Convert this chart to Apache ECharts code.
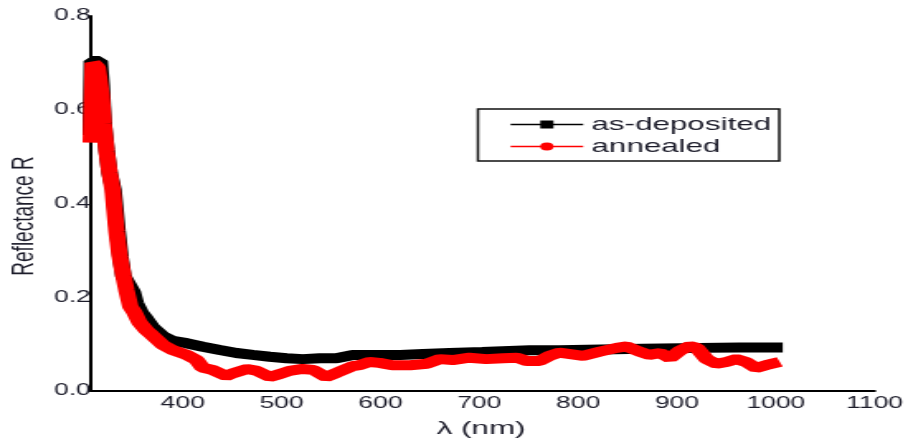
<!DOCTYPE html>
<html>
<head>
<meta charset="utf-8">
<title>Reflectance</title>
<script src="https://cdn.jsdelivr.net/npm/echarts@6/dist/echarts.min.js"></script>
<style>
  html, body { margin: 0; padding: 0; background: #fff; overflow: hidden; }
  /* the original figure is stretched sideways, so draw narrow and stretch */
  #main { width: 550px; height: 444px; transform: scaleX(1.6509); transform-origin: 0 0; }
</style>
</head>
<body>
<div id="main"></div>
<script>
  // wavelength (nm), reflectance
  var asDeposited = [
    [307, 0.546], [308, 0.704], [316, 0.704], [318, 0.653], [320, 0.572], [323, 0.514],
    [326, 0.465], [330, 0.429], [334, 0.343], [337, 0.286], [340, 0.245], [349.5, 0.211],
    [352.5, 0.188], [357.6, 0.167], [362.6, 0.154], [369.4, 0.135], [379.5, 0.117],
    [389.6, 0.107], [403.8, 0.102], [420.3, 0.0945], [437.5, 0.0875], [454.4, 0.081],
    [470.8, 0.077], [488, 0.073], [505, 0.070], [521.4, 0.068], [538.6, 0.070],
    [555.5, 0.070], [572, 0.077], [589, 0.077], [620, 0.077], [643, 0.079], [670, 0.081],
    [703, 0.083], [751, 0.087], [781, 0.087], [865, 0.090], [923, 0.092], [963, 0.093],
    [1007, 0.093]
  ]
  var annealed = [
    [307, 0.53], [309, 0.70], [314, 0.69], [318, 0.63], [320, 0.57], [323, 0.51],
    [326, 0.465], [329, 0.43], [333, 0.34], [336, 0.29], [340, 0.245], [343, 0.215],
    [347, 0.18], [351, 0.168], [356, 0.147], [363, 0.13], [369, 0.119], [380, 0.098],
    [390, 0.087], [404, 0.077], [414, 0.066], [420, 0.05], [430, 0.045], [444, 0.032],
    [451, 0.038], [465, 0.047], [475, 0.043], [488, 0.03], [498, 0.036], [508, 0.043],
    [521, 0.047], [532, 0.045], [545, 0.03], [556, 0.039], [572, 0.053], [579, 0.055],
    [589, 0.062], [599, 0.06], [612, 0.055], [630, 0.055], [647, 0.058], [660, 0.068],
    [673, 0.066], [690, 0.071], [707, 0.068], [724, 0.07], [738, 0.071], [748, 0.064],
    [761, 0.064], [771, 0.075], [781, 0.082], [805, 0.075], [822, 0.084], [839, 0.092],
    [849, 0.095], [862, 0.084], [872, 0.077], [883, 0.081], [893, 0.07], [903, 0.086],
    [913, 0.096], [920, 0.092], [930, 0.068], [940, 0.058], [950, 0.062], [960, 0.068],
    [970, 0.062], [980, 0.049], [990, 0.055], [1004, 0.062]
  ]
  var xTicks = [400, 500, 600, 700, 800, 900, 1000, 1100]
  var seriesNames = ['as-deposited', 'annealed']

  var font = 'Liberation Sans, Arial, sans-serif'
  var ink = '#1c1c2a'

  var myChart = echarts.init(document.getElementById('main'), null, { width: 550, height: 444 })
  var option = {
    backgroundColor: '#fff',
    animation: false,
    grid: { left: 55, right: 19, top: 16, bottom: 53 },
    xAxis: {
      type: 'value',
      min: 307,
      max: 1100,
      axisLine: { lineStyle: { color: '#000', width: 2 } },
      axisTick: { show: false },
      splitLine: { show: false },
      axisLabel: {
        customValues: xTicks,
        fontFamily: font,
        fontSize: 16,
        color: ink,
        margin: 5,
        formatter: function (v) { return String(v) }
      }
    },
    yAxis: {
      type: 'value',
      min: 0,
      max: 0.8,
      interval: 0.2,
      axisLine: { show: true, lineStyle: { color: '#000', width: 2 } },
      axisTick: { show: false },
      splitLine: { show: false },
      axisLabel: {
        fontFamily: font,
        fontSize: 16,
        color: ink,
        margin: 0,
        formatter: function (v) { return v.toFixed(1) }
      }
    },
    legend: {
      data: seriesNames,
      orient: 'vertical',
      left: 289.5,
      top: 109,
      padding: [6, 5, 5, 19],
      itemGap: 3,
      itemWidth: 44,
      itemHeight: 10,
      borderColor: '#111',
      borderWidth: 1.5,
      lineStyle: { width: 1.5 },
      textStyle: { fontFamily: font, fontSize: 19, color: ink }
    },
    graphic: [
      {
        type: 'text',
        x: 14.5,
        y: 216,
        rotation: Math.PI / 2,
        style: {
          text: 'Reflectance R',
          font: '19px ' + font,
          fill: ink,
          align: 'center',
          verticalAlign: 'middle'
        }
      },
      {
        type: 'text',
        x: 291.4,
        y: 429,
        style: {
          text: 'λ (nm)',
          font: '19px ' + font,
          fill: ink,
          align: 'center',
          verticalAlign: 'middle'
        }
      }
    ],
    series: [
      {
        name: seriesNames[0],
        type: 'line',
        data: asDeposited,
        symbol: 'rect',
        symbolSize: 8,
        showSymbol: false,
        itemStyle: { color: '#000' },
        lineStyle: { color: '#000', width: 10 },
        z: 2
      },
      {
        name: seriesNames[1],
        type: 'line',
        data: annealed,
        symbol: 'circle',
        symbolSize: 8,
        showSymbol: false,
        itemStyle: { color: '#ff0000' },
        lineStyle: { color: '#ff0000', width: 10 },
        z: 3
      }
    ]
  }
  myChart.setOption(option)
</script>
</body>
</html>
